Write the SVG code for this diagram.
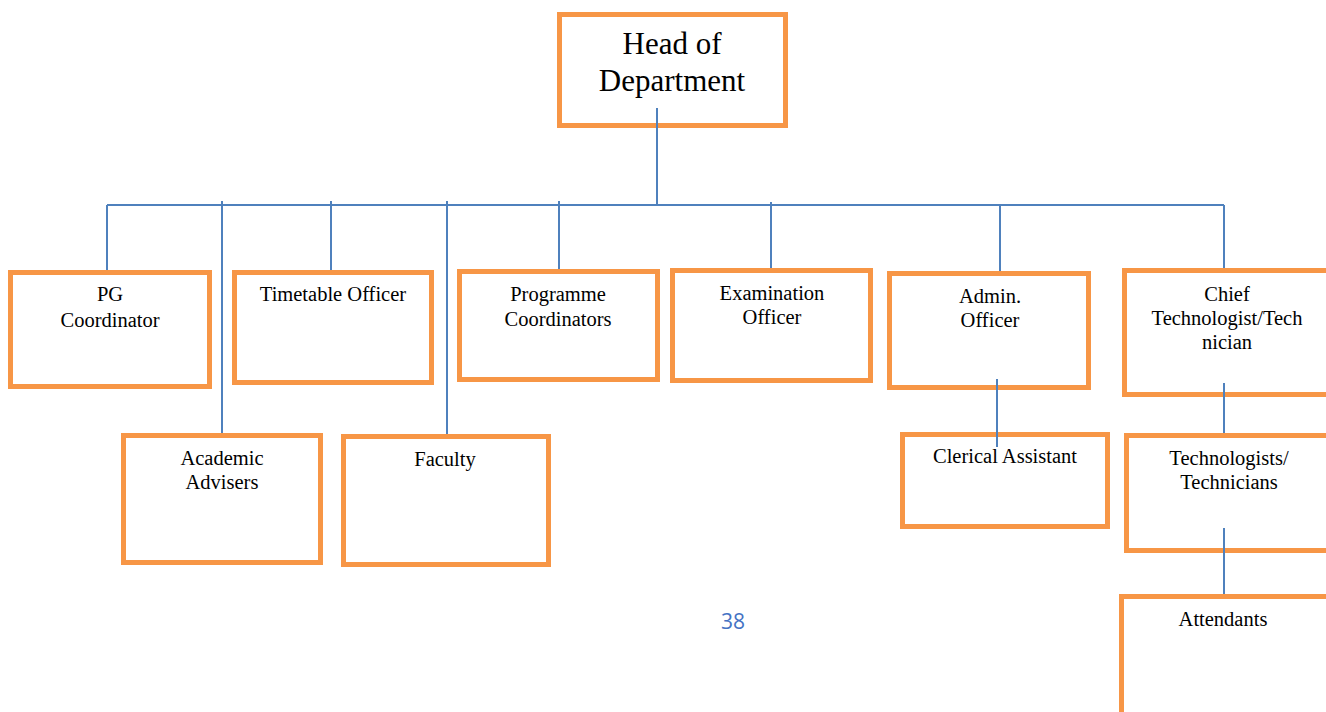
<svg xmlns="http://www.w3.org/2000/svg" width="1326" height="712" viewBox="0 0 1326 712">
<style>
.box{fill:#fff;stroke:#F79646;stroke-width:5}
.t{font-family:"Liberation Serif","Times New Roman",serif;font-size:20.5px;fill:#000;text-anchor:middle}
.big{font-size:31px}
.c{stroke:#4F81BD;stroke-width:2;fill:none}
.pg{font-family:"Open Sans","Liberation Sans",sans-serif;font-size:21px;fill:#4472C4;text-anchor:middle}
</style>
<rect width="1326" height="712" fill="#fff"/>
<g id="hod"><rect class="box" x="559.5" y="14.5" width="226" height="111"/><text class="t big" x="672" y="54">Head of</text><text class="t big" x="672" y="91">Department</text></g>
<g id="pg"><rect class="box" x="10.5" y="272.5" width="199" height="114"/><text class="t" x="110" y="301">PG</text><text class="t" x="110" y="327">Coordinator</text></g>
<g id="timetable"><rect class="box" x="234.5" y="272.5" width="197" height="110"/><text class="t" x="333" y="301">Timetable Officer</text></g>
<g id="programme"><rect class="box" x="459.5" y="271.5" width="198" height="108"/><text class="t" x="558" y="301">Programme</text><text class="t" x="558" y="326">Coordinators</text></g>
<g id="exam"><rect class="box" x="672.5" y="270.5" width="198" height="110"/><text class="t" x="772" y="300">Examination</text><text class="t" x="772" y="324">Officer</text></g>
<g id="admin"><rect class="box" x="889.5" y="273.5" width="199" height="114"/><text class="t" x="990" y="303">Admin.</text><text class="t" x="990" y="327">Officer</text></g>
<g id="chief"><rect class="box" x="1124.5" y="270.5" width="220" height="124"/><text class="t" x="1227" y="301">Chief</text><text class="t" x="1227" y="325">Technologist/Tech</text><text class="t" x="1227" y="349">nician</text></g>
<g id="academic"><rect class="box" x="123.5" y="435.5" width="197" height="127"/><text class="t" x="222" y="465">Academic</text><text class="t" x="222" y="489">Advisers</text></g>
<g id="faculty"><rect class="box" x="343.5" y="436.5" width="205" height="128"/><text class="t" x="445" y="466">Faculty</text></g>
<g id="clerical"><rect class="box" x="902.5" y="434.5" width="205" height="92"/><text class="t" x="1005" y="463">Clerical Assistant</text></g>
<g id="technologists"><rect class="box" x="1126.5" y="435.5" width="220" height="115"/><text class="t" x="1229" y="465">Technologists/</text><text class="t" x="1229" y="489">Technicians</text></g>
<g id="attendants"><rect class="box" x="1121.5" y="596.5" width="225" height="140"/><text class="t" x="1223" y="626">Attendants</text></g>
<g id="connectors">
<path class="c" d="M657 108V205M107 205H1224M107 205V270M222 201V433M331 201V270M447 201V434M559 201V269M771 202V268M1000 205V271M1224 205V268M997 379V447M1224 383V433M1224 528V594"/>
</g>
<text class="pg" x="733" y="629">38</text>
</svg>
